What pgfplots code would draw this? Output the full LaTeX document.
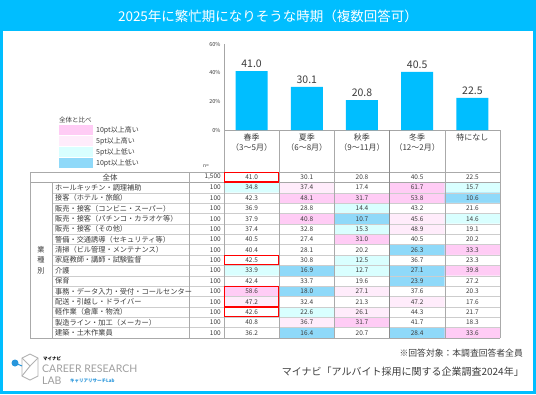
\documentclass[border=0pt]{standalone}
\usepackage{pgfplots}
\pgfplotsset{compat=1.18}
\usepackage{pgfplotstable}
\usepackage{fontspec}
\setmainfont{Noto Sans CJK JP}
\newfontfamily\latofont{Lato}
\definecolor{cyanT}{RGB}{0,190,255}
\definecolor{txt}{RGB}{60,60,60}
\definecolor{cPink}{RGB}{255,204,245}
\definecolor{cLPink}{RGB}{255,236,251}
\definecolor{cLCyan}{RGB}{217,255,255}
\definecolor{cBlue}{RGB}{143,217,249}
\definecolor{gridc}{RGB}{205,205,205}
\definecolor{vgrid}{RGB}{170,170,170}
\definecolor{logoblue}{RGB}{40,150,220}

\pgfplotstableread{
x y lab
0 41.0 41.0
1 30.1 30.1
2 20.8 20.8
3 40.5 40.5
4 22.5 22.5
}\bardata

\pgfplotstableread{
x y c v
0 0 0 41.0
1 0 0 30.1
2 0 0 20.8
3 0 0 40.5
4 0 0 22.5
0 1 -1 34.8
1 1 1 37.4
2 1 0 17.4
3 1 2 61.7
4 1 -1 15.7
0 2 0 42.3
1 2 2 48.1
2 2 2 31.7
3 2 2 53.8
4 2 -2 10.6
0 3 0 36.9
1 3 0 28.8
2 3 -1 14.4
3 3 0 43.2
4 3 0 21.6
0 4 0 37.9
1 4 2 40.8
2 4 -2 10.7
3 4 1 45.6
4 4 -1 14.6
0 5 0 37.4
1 5 0 32.8
2 5 -1 15.3
3 5 1 48.9
4 5 0 19.1
0 6 0 40.5
1 6 0 27.4
2 6 2 31.0
3 6 0 40.5
4 6 0 20.2
0 7 0 40.4
1 7 0 28.1
2 7 0 20.2
3 7 -2 26.3
4 7 2 33.3
0 8 0 42.5
1 8 0 30.8
2 8 -1 12.5
3 8 0 36.7
4 8 0 23.3
0 9 -1 33.9
1 9 -2 16.9
2 9 -1 12.7
3 9 -2 27.1
4 9 2 39.8
0 10 0 42.4
1 10 0 33.7
2 10 0 19.6
3 10 -2 23.9
4 10 0 27.2
0 11 2 58.6
1 11 -2 18.0
2 11 1 27.1
3 11 0 37.6
4 11 0 20.3
0 12 1 47.2
1 12 0 32.4
2 12 0 21.3
3 12 1 47.2
4 12 0 17.6
0 13 0 42.6
1 13 -1 22.6
2 13 1 26.1
3 13 0 44.3
4 13 0 21.7
0 14 0 40.8
1 14 1 36.7
2 14 2 31.7
3 14 0 41.7
4 14 0 18.3
0 15 0 36.2
1 15 -2 16.4
2 15 0 20.7
3 15 -2 28.4
4 15 2 33.6
}\celldata

\begin{document}
\begin{tikzpicture}[x=1pt,y=-1pt]
\fill[cyanT] (0,0) rectangle (536,394);
\fill[white] (3,31) rectangle (533,391);
\node[white, font=\fontsize{13.5}{14}\selectfont] at (268,16) {2025年に繁忙期になりそうな時期（複数回答可）};

% bar chart
\begin{axis}[at={(224pt,-130pt)}, anchor=south west, scale only axis,
  width=276pt, height=86pt,
  ybar, bar width=32pt, xmin=-0.5, xmax=4.5, ymin=0, ymax=60,
  axis x line*=bottom, axis y line*=left,
  axis line style={draw=gray!70, -},
  ytick={0,20,40,60},
  /pgf/number format/assume math mode=true,
  yticklabel={\pgfmathprintnumber{\tick}\%},
  yticklabel style={font=\fontsize{5.5}{6}\selectfont, text=txt},
  major tick length=0pt,
  xtick={0,1,2,3,4},
  xticklabels={{春季\\（3～5月）},{夏季\\（6～8月）},{秋季\\（9～11月）},{冬季\\（12～2月）},{特になし}},
  xticklabel style={align=center, font=\fontsize{8}{10}\selectfont, text=txt, anchor=north},
  nodes near coords, point meta=explicit symbolic,
  nodes near coords style={font=\fontsize{10.5}{11}\selectfont, text=txt},
  clip=false]
\addplot[fill=cyanT, draw=none] table[x=x,y=y,meta=lab]{\bardata};
\end{axis}

% table cells
\begin{axis}[at={(224pt,-338pt)}, anchor=south west, scale only axis,
  width=276pt, height=166pt,
  xmin=-0.5, xmax=4.5, ymin=-0.5, ymax=15.5, y dir=reverse, hide axis,
  colormap={cells}{color=(cBlue) color=(cLCyan) color=(white) color=(cLPink) color=(cPink)},
  point meta min=-2, point meta max=2, clip=false]
\addplot[matrix plot*, mesh/cols=5, point meta=explicit, shader=flat corner]
  table[x=x,y=y,meta=c]{\celldata};
\addplot[only marks, mark=*, mark size=0pt, mark options={draw opacity=0, fill opacity=0},
  nodes near coords, point meta=explicit symbolic,
  nodes near coords align=center,
  nodes near coords style={font=\fontsize{6.5}{7}\selectfont, text=txt, anchor=center, text opacity=1}]
  table[x=x,y=y,meta=v]{\celldata};
\end{axis}

% table grid
\foreach \i in {2,...,15}
  \draw[gridc, line width=0.5pt] (52,{172+10.375*\i}) -- (500,{172+10.375*\i});
\draw[gray!70, line width=1.3pt] (30,182.375) -- (500,182.375);
\draw[vgrid, line width=0.6pt] (30,172) -- (500,172);
\draw[vgrid, line width=0.6pt] (30,338) -- (500,338);
\draw[vgrid, line width=0.6pt] (30,172) -- (30,338);
\draw[vgrid, line width=0.6pt] (52,182.375) -- (52,338);
\draw[vgrid, line width=0.6pt] (189,172) -- (189,338);
\foreach \xx in {224,279.2,334.4,444.8,500}
  \draw[vgrid, line width=0.6pt] (\xx,130) -- (\xx,338);
\draw[gray!90, line width=1pt] (389.6,130) -- (389.6,338);

% red highlight boxes
\begin{scope}[red, line width=1.2pt]
\draw (224.6,172.6) rectangle (278.6,182.0);
\draw (224.6,{172+10.375*8+0.5}) rectangle (278.6,{172+10.375*9-0.5});
\draw (224.6,{172+10.375*11+0.5}) rectangle (278.6,{172+10.375*13-0.5});
\draw (224.6,{172+10.375*13+0.5}) rectangle (278.6,{172+10.375*14-0.5});
\end{scope}

% row labels
\node[font=\fontsize{7.5}{8}\selectfont, text=txt] at (110,177.2) {全体};
\node[anchor=east, font=\fontsize{6.5}{7}\selectfont, text=txt, inner sep=0] at (221,177.2) {1,500};
\foreach \i/\t in {1/ホールキッチン・調理補助,2/接客（ホテル・旅館）,3/販売・接客（コンビニ・スーパー）,4/販売・接客（パチンコ・カラオケ等）,5/販売・接客（その他）,6/警備・交通誘導（セキュリティ等）,7/清掃（ビル管理・メンテナンス）,8/家庭教師・講師・試験監督,9/介護,10/保育,11/事務・データ入力・受付・コールセンター,12/配送・引越し・ドライバー,13/軽作業（倉庫・物流）,14/製造ライン・加工（メーカー）,15/建築・土木作業員}{
  \node[anchor=west, font=\fontsize{7.2}{8}\selectfont, text=txt, inner sep=0] at (55,{172+10.375*\i+5.19}) {\t};
  \node[anchor=east, font=\fontsize{6.5}{7}\selectfont, text=txt, inner sep=0] at (221,{172+10.375*\i+5.19}) {100};
}
\node[font=\fontsize{7.2}{10.5}\selectfont, text=txt, align=center] at (41,260) {業\\種\\別};
\node[font=\fontsize{5}{6}\selectfont, text=txt] at (206,166) {n=};

% legend
\node[anchor=west, font=\fontsize{6.5}{7}\selectfont, text=txt, inner sep=0] at (59,120) {全体と比べ};
\fill[cPink] (59,125) rectangle (93,135);
\fill[cLPink] (59,136) rectangle (93,146);
\fill[cLCyan] (59,147) rectangle (93,157);
\fill[cBlue] (59,158) rectangle (93,168);
\foreach \yy/\t in {130/10pt以上高い,141/5pt以上高い,152/5pt以上低い,163/10pt以上低い}
  \node[anchor=west, font=\fontsize{7}{8}\selectfont, text=txt, inner sep=0] at (96,\yy) {\t};

% notes
\node[anchor=east, font=\fontsize{8.8}{9}\selectfont, text=txt, inner sep=0] at (523,353) {※回答対象：本調査回答者全員};
\node[anchor=east, font=\fontsize{10}{11}\selectfont, text=txt, inner sep=0] at (524,372) {マイナビ「アルバイト採用に関する企業調査2024年」};

% logo
\begin{scope}[gray!60, line width=0.9pt]
\draw (22,358) -- (30,354) -- (38,358) -- (38,376) -- (30,380) -- (22,376) -- cycle;
\draw (22,358) -- (30,366) -- (38,358);
\draw (30,366) -- (22,376);
\end{scope}
\draw[logoblue, line width=1pt] (15,363) -- (22,366);
\fill[logoblue] (15,363) circle (3.5);
\node[anchor=west, font=\fontsize{4.5}{5}\selectfont\bfseries, text=black, inner sep=0] at (43,359) {マイナビ};
\node[anchor=west, font=\latofont\fontsize{10.5}{11}\selectfont, text=gray!75, inner sep=0] at (42,369) {CAREER RESEARCH};
\node[anchor=west, font=\latofont\fontsize{10.5}{11}\selectfont, text=gray!75, inner sep=0] at (42,380.5) {LAB};
\node[anchor=west, font=\fontsize{4.5}{5}\selectfont\bfseries, text=logoblue, inner sep=0] at (70,381) {キャリアリサーチLab};

\pgfresetboundingbox
\useasboundingbox (0,0) rectangle (536,394);
\end{tikzpicture}
\end{document}
